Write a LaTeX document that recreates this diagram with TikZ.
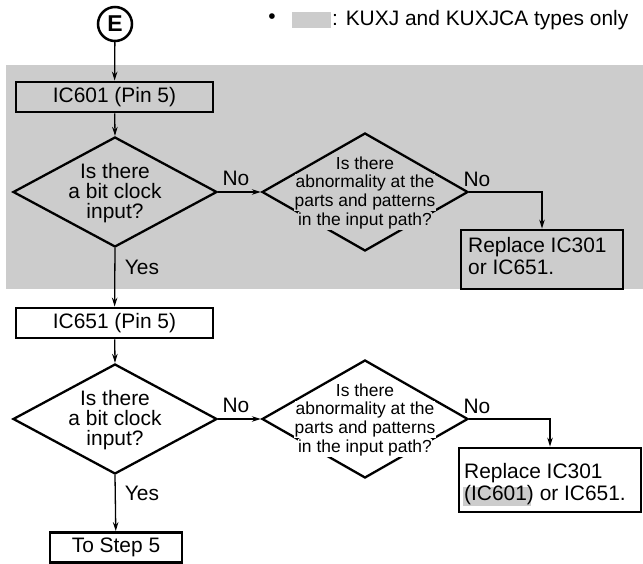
\documentclass[tikz,border=0pt]{standalone}
\usepackage{fontspec}
\setmainfont{Liberation Sans}
\usetikzlibrary{shapes.geometric,arrows.meta}
\definecolor{bggrey}{gray}{0.8}
\begin{document}
\begin{tikzpicture}[x=1bp,y=-1bp,
  box/.style={draw,line width=2.8bp,inner sep=0,font=\fontsize{21}{22}\selectfont},
  dia/.style={draw,diamond,line width=2.3bp,inner sep=0},
  conn/.style={line width=1.3bp,-{Stealth[length=9bp,width=5.5bp]}},
  lbl/.style={font=\fontsize{21}{22}\selectfont,inner sep=0},
  qtext/.style={align=center,font=\fontsize{21}{20}\selectfont,inner sep=0},
  atext/.style={font=\fontsize{17.5}{18.5}\selectfont,inner sep=0.6bp},
  rtext/.style={align=left,font=\fontsize{21}{22.5}\selectfont,inner sep=0},
]
\useasboundingbox (0,0) rectangle (643,564);
% background of the KUXJ / KUXJCA part
\fill[bggrey] (6,65) rectangle (643,289);
% legend
\node[lbl] (bul) at (272,19) {•};
\fill[bggrey] (292,12) rectangle (331,28);
\node[lbl,anchor=west] (leg) at (332,20) {: KUXJ and KUXJCA types only};
% start
\node[circle,draw,line width=2.5bp,minimum size=34bp,inner sep=0,font=\bfseries\fontsize{23}{23}\selectfont] (E) at (115,24) {E};
% group 1
\node[box,minimum width=197bp,minimum height=30bp] (b1) at (114.5,97) {IC601 (Pin 5)};
\node[dia,minimum width=204bp,minimum height=110bp] (d1) at (115,192) {};
\node[qtext] (t1) at (115,193) {Is there\\a bit clock\\input?};
\node[dia,minimum width=206bp,minimum height=118bp] (d2) at (365,192) {};
\node[atext,fill=bggrey] (a1) at (365,163) {Is there};
\node[atext,fill=bggrey] (a2) at (365,182.5) {abnormality at the};
\node[atext,fill=bggrey] (a3) at (365,202) {parts and patterns};
\node[atext,fill=bggrey] (a4) at (365,221) {in the input path?};
\node[box,minimum width=162bp,minimum height=59bp] (r1) at (542,259.5) {};
\node[rtext,anchor=west] (r1t) at (468,256) {Replace IC301\\or IC651.};
\node[lbl,anchor=south] (no1) at (236,186) {No};
\node[lbl,anchor=south] (no2) at (477,187) {No};
\node[lbl] (yes1) at (142,267) {Yes};
% group 2
\node[box,minimum width=197bp,minimum height=30bp] (b2) at (114.5,323) {IC651 (Pin 5)};
\node[dia,minimum width=204bp,minimum height=110bp] (d3) at (115,419) {};
\node[qtext] (t3) at (115,420) {Is there\\a bit clock\\input?};
\node[dia,minimum width=206bp,minimum height=118bp] (d4) at (365,419) {};
\node[atext,fill=white] (c1) at (365,390) {Is there};
\node[atext,fill=white] (c2) at (365,409.5) {abnormality at the};
\node[atext,fill=white] (c3) at (365,429) {parts and patterns};
\node[atext,fill=white] (c4) at (365,448) {in the input path?};
\node[box,minimum width=182bp,minimum height=64bp] (r2) at (550,480) {};
\fill[bggrey] (463,487) rectangle (531,506);
\node[rtext,anchor=west] (r2t) at (464,484) {Replace IC301\\(IC601) or IC651.};
\node[lbl,anchor=south] (no3) at (236,413) {No};
\node[lbl,anchor=south] (no4) at (477,414) {No};
\node[lbl] (yes2) at (142,493) {Yes};
\node[box,minimum width=132bp,minimum height=30bp] (s5) at (116,547.5) {To Step 5};
% connectors
\draw[conn] (E) -- (b1);
\draw[conn] (b1) -- (d1.north);
\draw[conn] (d1.east) -- (d2.west);
\draw[conn] (d2.east) -| (r1.north);
\draw[conn] (d1.south) -- (b2);
\draw[conn] (b2) -- (d3.north);
\draw[conn] (d3.east) -- (d4.west);
\draw[conn] (d4.east) -| (r2.north);
\draw[conn] (d3.south) -- (s5);
\end{tikzpicture}
\end{document}
